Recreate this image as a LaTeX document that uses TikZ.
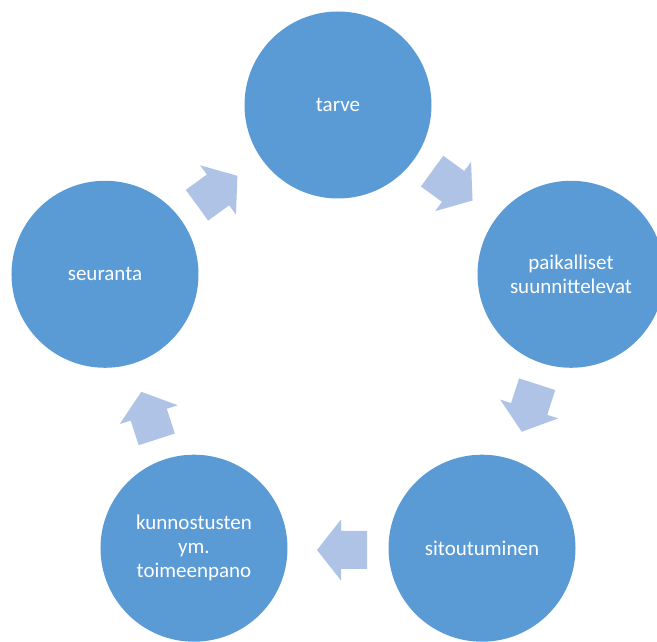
\documentclass[tikz,border=0pt]{standalone}
\usepackage{fontspec}
\setmainfont{Carlito}
\usetikzlibrary{calc}
\definecolor{circblue}{HTML}{5B9BD5}
\definecolor{arrblue}{HTML}{AEC3E5}
\tikzset{
  stage/.style={circle, fill=circblue, minimum size=187pt, inner sep=0pt,
    text=white, font=\fontsize{21}{24}\selectfont, align=center},
  arrowfill/.style={fill=arrblue}
}
\newcommand\cyclearrow[2]{%
  \coordinate (#2) at ($(C)+(#1:200)$);
  \begin{scope}[shift={(#2)}, rotate=#1-90]
    \fill[arrowfill] (-29,-19) -- (-3,-19) -- (-3,-30.5) -- (21,0) -- (-3,30.5) -- (-3,19) -- (-29,19) -- cycle;
  \end{scope}}
\begin{document}
\begin{tikzpicture}[x=1pt,y=1pt]
\useasboundingbox (0,0) rectangle (657,642);
\clip (0,0) rectangle (657,642);
\coordinate (C) at (338,292);
\node[stage] (tarve) at ($(C)+(90:245)$) {tarve};
\node[stage] (paik) at ($(C)+(18:245)$) {paikalliset\\suunnittelevat};
\node[stage] (sitout) at ($(C)+(-54:245)$) {sitoutuminen};
\node[stage] (kunn) at ($(C)+(234:245)$) {kunnostusten\\ym.\\toimeenpano};
\node[stage] (seur) at ($(C)+(162:245)$) {seuranta};
\cyclearrow{54}{a1}
\cyclearrow{-18}{a2}
\cyclearrow{-90}{a3}
\cyclearrow{198}{a4}
\cyclearrow{126}{a5}
\end{tikzpicture}
\end{document}
